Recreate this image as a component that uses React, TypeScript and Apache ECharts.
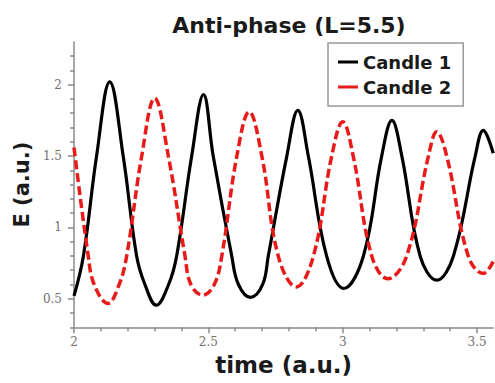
import React, { useEffect, useRef } from "react";
import * as echarts from "echarts";

const titleText = "Anti-phase (L=5.5)";
const xName = "time (a.u.)";
const yName = "E (a.u.)";
const seriesNames = ["Candle 1", "Candle 2"];

const tBlack = [2.0, 2.035, 2.084, 2.133, 2.183, 2.233, 2.264, 2.306, 2.352, 2.382, 2.438, 2.482, 2.518, 2.587, 2.612, 2.657, 2.702, 2.723, 2.792, 2.833, 2.872, 2.94, 3.004, 3.077, 3.145, 3.183, 3.22, 3.288, 3.35, 3.412, 3.493, 3.523, 3.56];
const eBlack = [0.52, 0.8, 1.5, 2.02, 1.5, 0.8, 0.6, 0.455, 0.6, 0.8, 1.5, 1.93, 1.5, 0.8, 0.6, 0.51, 0.6, 0.8, 1.5, 1.82, 1.5, 0.8, 0.572, 0.8, 1.5, 1.75, 1.5, 0.8, 0.63, 0.8, 1.5, 1.68, 1.52];

const tRed = [2.0, 2.053, 2.075, 2.126, 2.168, 2.196, 2.252, 2.3, 2.351, 2.413, 2.435, 2.479, 2.522, 2.55, 2.606, 2.652, 2.699, 2.76, 2.827, 2.891, 2.959, 3.0, 3.039, 3.108, 3.168, 3.238, 3.319, 3.35, 3.387, 3.467, 3.523, 3.56];
const eRed = [1.56, 0.8, 0.6, 0.467, 0.6, 0.8, 1.5, 1.905, 1.5, 0.8, 0.6, 0.525, 0.6, 0.8, 1.5, 1.81, 1.5, 0.8, 0.583, 0.8, 1.5, 1.74, 1.5, 0.8, 0.64, 0.8, 1.5, 1.67, 1.5, 0.8, 0.677, 0.76];

const xMajor = [2, 2.5, 3, 3.5];
const xMinor = [2.1, 2.2, 2.3, 2.4, 2.6, 2.7, 2.8, 2.9, 3.1, 3.2, 3.3, 3.4];
const yMajor = [0.5, 1, 1.5, 2];
const yMinor = [0.3, 0.4, 0.6, 0.7, 0.8, 0.9, 1.1, 1.2, 1.3, 1.4, 1.6, 1.7, 1.8, 1.9, 2.1, 2.2];

const X_MIN = 2;
const X_MAX = 3.56;
const Y_MIN = 0.3;
const Y_MAX = 2.3;

export default function App() {
  const ref = useRef<HTMLDivElement>(null);
  useEffect(() => {
    if (!ref.current) return;
    const chart = echarts.init(ref.current, null, { renderer: "svg" });
    const axisGray = "#8a8a8a";
    const labelStyle = { fontFamily: "DejaVu Serif", fontSize: 12, color: "#707070" };
    const nameStyle = { fontFamily: "DejaVu Sans", fontWeight: "bold" as const, color: "#1a1a1a" };
    chart.setOption({
      animation: false,
      backgroundColor: "#ffffff",
      title: {
        text: titleText,
        left: 284,
        top: 9,
        textAlign: "center",
        textStyle: { fontFamily: "DejaVu Sans", fontWeight: "bold", fontSize: 22, color: "#1a1a1a" },
      },
      legend: {
        orient: "vertical",
        left: 328,
        top: 43,
        padding: [8, 12, 8, 10],
        itemGap: 3,
        itemWidth: 20,
        itemHeight: 3,
        icon: "rect",
        borderColor: "#999999",
        borderWidth: 1.5,
        backgroundColor: "#ffffff",
        textStyle: { fontFamily: "DejaVu Sans", fontWeight: "bold", fontSize: 18, color: "#1a1a1a", lineHeight: 22 },
        data: seriesNames,
      },
      grid: { left: 74, right: 1.8, top: 41.9, bottom: 55.7 },
      xAxis: [
        {
          type: "value",
          min: X_MIN,
          max: X_MAX,
          position: "bottom",
          name: xName,
          nameLocation: "middle",
          nameGap: 4,
          nameTextStyle: { ...nameStyle, fontSize: 23, verticalAlign: "top" },
          axisLine: { show: true, lineStyle: { color: axisGray, width: 1.5 } },
          axisTick: { show: true, customValues: xMajor, length: 6, lineStyle: { color: axisGray, width: 1.5 } },
          axisLabel: { customValues: xMajor, margin: 9, ...labelStyle },
          splitLine: { show: false },
        },
        {
          type: "value",
          min: X_MIN,
          max: X_MAX,
          position: "bottom",
          axisLine: { show: false },
          axisTick: { show: true, customValues: xMinor, length: 4, lineStyle: { color: axisGray, width: 1.5 } },
          axisLabel: { show: false },
          splitLine: { show: false },
        },
      ],
      yAxis: [
        {
          type: "value",
          min: Y_MIN,
          max: Y_MAX,
          position: "left",
          name: yName,
          nameLocation: "middle",
          nameGap: 37,
          nameRotate: 90,
          nameTextStyle: { ...nameStyle, fontSize: 21 },
          axisLine: { show: true, lineStyle: { color: axisGray, width: 1.5 } },
          axisTick: { show: true, customValues: yMajor, length: 6, lineStyle: { color: axisGray, width: 1.5 } },
          axisLabel: { customValues: yMajor, margin: 12, ...labelStyle },
          splitLine: { show: false },
        },
        {
          type: "value",
          min: Y_MIN,
          max: Y_MAX,
          position: "left",
          axisLine: { show: false },
          axisTick: { show: true, customValues: yMinor, length: 4, lineStyle: { color: axisGray, width: 1.5 } },
          axisLabel: { show: false },
          splitLine: { show: false },
        },
      ],
      series: [
        {
          name: seriesNames[0],
          type: "line",
          data: tBlack.map((t, i) => [t, eBlack[i]]),
          smooth: 0.4,
          showSymbol: false,
          symbol: "none",
          color: "#000000",
          lineStyle: { color: "#000000", width: 3.2 },
          z: 3,
        },
        {
          name: seriesNames[1],
          type: "line",
          data: tRed.map((t, i) => [t, eRed[i]]),
          smooth: 0.4,
          showSymbol: false,
          symbol: "none",
          color: "#e81a1a",
          lineStyle: { color: "#e81a1a", width: 3.5, type: [9, 4] },
          z: 4,
        },
      ],
    });
    return () => chart.dispose();
  }, []);
  return <div ref={ref} style={{ width: 495, height: 383, position: "absolute", left: 0, top: 0 }} />;
}
